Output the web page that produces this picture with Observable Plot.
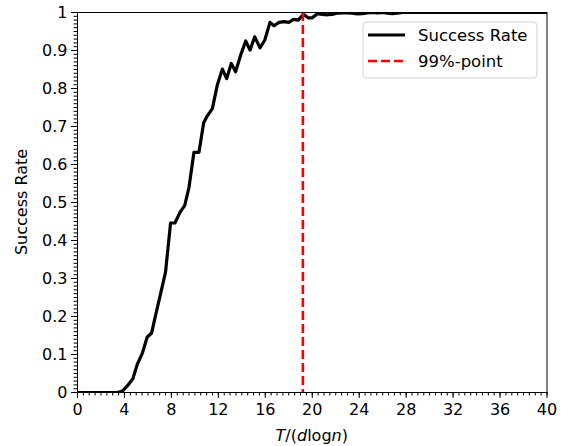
<!DOCTYPE html>
<html><head><meta charset="utf-8">
<script src="https://cdn.jsdelivr.net/npm/d3@7"></script>
<script src="https://cdn.jsdelivr.net/npm/@observablehq/plot@0.6"></script>
<style>
body{margin:0;background:#fff;}
#chart{width:562px;height:446px;}
</style>
</head><body><div id="chart"></div>
<script>
// Success rate curve
const tValues = [0, 1.0, 2.0, 3.0, 3.4, 3.83, 4.26, 4.72, 5.09, 5.52, 5.94, 6.31, 6.68, 7.08, 7.5, 7.93, 8.3, 8.73, 9.13, 9.5, 9.92, 10.35, 10.75, 11.1, 11.49, 11.91, 12.34, 12.71, 13.1, 13.47, 13.9, 14.33, 14.7, 15.1, 15.55, 15.95, 16.4, 16.74, 17.17, 17.6, 18.0, 18.4, 18.8, 19.25, 19.65, 20.0, 20.44, 20.85, 21.3, 21.7, 22.1, 22.55, 23.0, 23.4, 23.85, 24.3, 24.7, 25.1, 25.55, 26.0, 26.4, 26.8, 27.25, 27.7, 30, 35, 40];
const successRate = [0, 0, 0, 0, 0, 0.004, 0.018, 0.036, 0.074, 0.103, 0.146, 0.156, 0.207, 0.26, 0.317, 0.446, 0.446, 0.474, 0.492, 0.54, 0.632, 0.632, 0.71, 0.73, 0.747, 0.809, 0.851, 0.826, 0.866, 0.844, 0.888, 0.925, 0.901, 0.936, 0.907, 0.927, 0.974, 0.965, 0.974, 0.976, 0.974, 0.982, 0.98, 0.995, 0.986, 0.986, 0.997, 0.995, 0.994, 0.995, 0.998, 0.999, 0.999, 0.998, 0.996, 0.997, 0.999, 1, 0.999, 1, 0.998, 0.997, 0.998, 1, 1, 1, 1];
const point99 = [19.2];
const xTicks = [0, 4, 8, 12, 16, 20, 24, 28, 32, 36, 40];
const yTicks = [0, 0.1, 0.2, 0.3, 0.4, 0.5, 0.6, 0.7, 0.8, 0.9, 1];
const seriesNames = ["Success Rate", "99%-point"];

const data = tValues.map((t, i) => ({t, rate: successRate[i]}));
const xMinor = d3.range(0, 81).map(i => i / 2);
const yMinor = d3.range(0, 101).map(i => i / 100);

const W = 562, H = 446;
const mL = 77, mR = 15.5, mT = 12, mB = 54;

const plot = Plot.plot({
  width: W, height: H,
  marginLeft: mL, marginRight: mR, marginTop: mT, marginBottom: mB,
  style: {fontFamily: "DejaVu Sans", fontSize: "16px", background: "white", color: "black"},
  x: {domain: [0, 40], label: null},
  y: {domain: [0, 1], label: null},
  marks: [
    Plot.axisX({ticks: xMinor, tickSize: 3.5, tickFormat: () => "", label: null}),
    Plot.axisY({ticks: yMinor, tickSize: 3.5, tickFormat: () => "", label: null}),
    Plot.axisX({ticks: xTicks, tickSize: 6, tickPadding: 5, label: null, tickFormat: d => String(d)}),
    Plot.axisY({ticks: yTicks, tickSize: 6, tickPadding: 4, label: null, tickFormat: d => String(+d.toFixed(1))}),
    Plot.line(data, {x: "t", y: "rate", stroke: "black", strokeWidth: 3.2, clip: true}),
    Plot.ruleX(point99, {stroke: "red", strokeWidth: 2.6, strokeDasharray: "9,4"}),
    Plot.frame({stroke: "black", strokeWidth: 1})
  ]
});
document.getElementById("chart").appendChild(plot);

const svg = d3.select(plot);
// x label with italic math variables
const xl = svg.append("text")
  .attr("x", (mL + W - mR) / 2).attr("y", 441)
  .attr("text-anchor", "middle")
  .attr("font-family", "DejaVu Sans").attr("font-size", 16).attr("fill", "black");
xl.append("tspan").attr("font-style", "italic").text("T");
xl.append("tspan").text("/(");
xl.append("tspan").attr("font-style", "italic").text("d");
xl.append("tspan").text("log");
xl.append("tspan").attr("font-style", "italic").text("n");
xl.append("tspan").text(")");
// y label
svg.append("text")
  .attr("transform", `translate(27,${(mT + H - mB) / 2}) rotate(-90)`)
  .attr("text-anchor", "middle")
  .attr("font-family", "DejaVu Sans").attr("font-size", 16).attr("fill", "black")
  .text("Success Rate");

// legend
const lg = svg.append("g").attr("transform", "translate(363,22)");
lg.append("rect").attr("width", 174).attr("height", 56).attr("rx", 4)
  .attr("fill", "white").attr("fill-opacity", 0.8).attr("stroke", "#d0d0d0").attr("stroke-width", 1);
lg.append("line").attr("x1", 5).attr("x2", 42).attr("y1", 13).attr("y2", 13)
  .attr("stroke", "black").attr("stroke-width", 3.2);
lg.append("line").attr("x1", 5).attr("x2", 42).attr("y1", 39).attr("y2", 39)
  .attr("stroke", "red").attr("stroke-width", 2.6).attr("stroke-dasharray", "9,4");
lg.selectAll("text.lt").data(seriesNames).join("text")
  .attr("x", 55).attr("y", (d, i) => 19 + i * 26)
  .attr("text-anchor", "start")
  .attr("font-family", "DejaVu Sans").attr("font-size", 16.5).attr("fill", "black")
  .text(d => d);
</script></body></html>
